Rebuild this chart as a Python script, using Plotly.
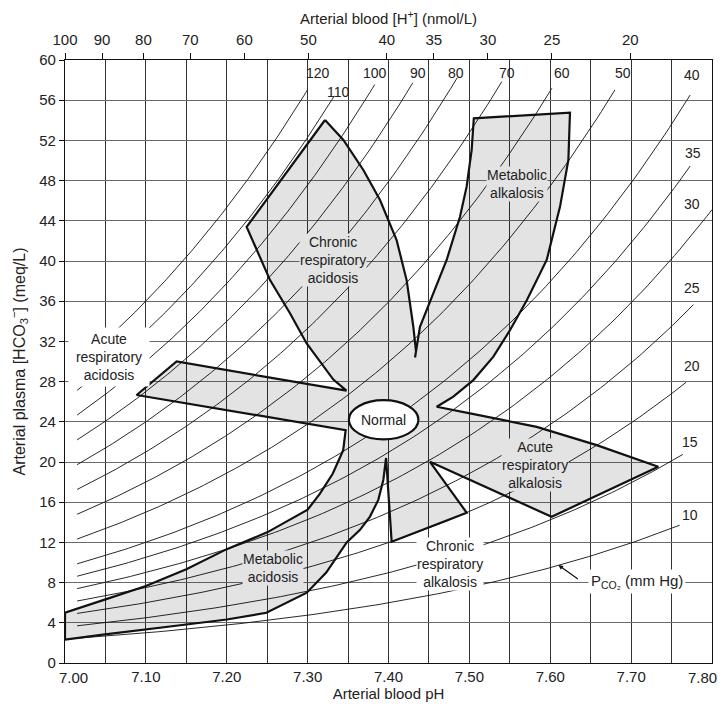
import numpy as np
import plotly.graph_objects as go

# ---------------- data ----------------
# PCO2 isopleths (mm Hg); curves follow Henderson-Hasselbalch
PCO2 = [10, 15, 20, 25, 30, 35, 40, 50, 60, 70, 80, 90, 100, 110, 120]
ISO_START_PH = 7.015
ISO_END_PH = [7.760, 7.764, 7.768, 7.777, 7.800, 7.773, 7.773, 7.680, 7.602,
              7.540, 7.485, 7.430, 7.383, 7.333, 7.300]
ISO_LABEL_PH = [7.773, 7.773, 7.775, 7.775, 7.775, 7.777, 7.775, 7.690, 7.614,
                7.546, 7.484, 7.437, 7.383, 7.338, 7.313]
ISO_LABEL_HCO3 = [14.7, 22.0, 29.6, 37.3, 45.7, 50.7, 58.5, 58.7, 58.7,
                  58.7, 58.7, 58.7, 58.7, 56.85, 58.7]
CO2_SOLUBILITY = 0.03
PK = 6.1

# combined outline of the shaded regions (pH, HCO3-)
REGION_PH = [
    7.3215, 7.3442, 7.3689, 7.3895, 7.4100, 7.4224, 7.4307, 7.4340,   # chronic resp. acidosis, right edge
    7.4328,                                                          # V
    7.4389, 7.4554, 7.4719, 7.4884, 7.4966, 7.5028, 7.5055,          # metabolic alkalosis, left edge
    7.6244, 7.6224, 7.6121, 7.5956, 7.5710, 7.5503, 7.5297, 7.5049, 7.4802,  # metabolic alkalosis, right edge
    7.4596,                                                          # notch
    7.5008, 7.5420, 7.5833, 7.6574, 7.7336,                          # acute resp. alkalosis, top edge
    7.6017, 7.4513,                                                  # acute resp. alkalosis, lower edge
    7.4967, 7.4039, 7.3970,                                          # chronic resp. alkalosis
    7.3936, 7.3874, 7.3771, 7.3648, 7.3483, 7.3230, 7.2990, 7.2490,
    7.2000, 7.1500, 7.0970, 7.0470, 7.0000,                          # metabolic acidosis, lower edge
    7.0000, 7.0500, 7.1000, 7.1500, 7.2000, 7.2500, 7.3000, 7.3150,
    7.3310, 7.3440, 7.3470,                                          # metabolic acidosis, upper edge
    7.0886, 7.1380, 7.3480,                                          # acute resp. acidosis
    7.3318, 7.2988, 7.2782, 7.2535, 7.2246,                          # chronic resp. acidosis, left edge
    7.3215,
]
REGION_HCO3 = [
    54.03, 52.04, 49.06, 46.07, 42.09, 38.10, 33.46, 31.00,
    30.40,
    33.46, 36.78, 40.10, 44.40, 47.40, 51.04, 54.20,
    54.76, 50.05, 45.41, 40.10, 36.10, 33.13, 30.48, 28.15, 26.50,
    25.50,
    24.84, 24.17, 23.50, 21.68, 19.52,
    14.55, 20.02,
    14.95, 12.06, 20.40,
    18.21, 16.23, 14.57, 13.25, 12.00, 9.00, 7.00, 5.00,
    4.33, 3.83, 3.33, 2.83, 2.33,
    5.00, 6.33, 7.67, 9.33, 11.33, 13.00, 15.25, 16.83,
    18.83, 21.17, 23.17,
    26.67, 30.00, 27.10,
    28.20, 31.80, 34.80, 38.10, 43.40,
    54.03,
]

# "Normal" ellipse
NORMAL_PH = 7.394
NORMAL_HCO3 = 24.2
NORMAL_HALF_PH = 0.043
NORMAL_HALF_HCO3 = 1.95

# region labels
LABEL_TEXT = ["Chronic<br>respiratory<br>acidosis", "Metabolic<br>alkalosis",
              "Acute<br>respiratory<br>acidosis", "Acute<br>respiratory<br>alkalosis",
              "Chronic<br>respiratory<br>alkalosis", "Metabolic<br>acidosis"]
LABEL_PH = [7.3318, 7.5585, 7.0550, 7.5812, 7.4760, 7.2574]
LABEL_HCO3 = [40.1, 47.7, 30.4, 19.7, 9.9, 9.5]
LABEL_ON_SHADE = [True, True, False, True, False, True]

PCO2_TITLE_PH = 7.707
PCO2_TITLE_HCO3 = 8.08
PCO2_ARROW_TIP = (7.610, 9.74)
PCO2_ARROW_TAIL = (7.636, 8.25)

# axes
PH_LABEL_TICKS = [7.10, 7.20, 7.30, 7.40, 7.50, 7.60, 7.70]
PH_LABEL_TEXT = ["7.10", "7.20", "7.30", "7.40", "7.50", "7.60", "7.70"]
PH_MINOR_GRID = [7.05, 7.15, 7.25, 7.35, 7.45, 7.55, 7.65, 7.75]
PH_RANGE = [7.00, 7.80]
PH_FIRST_LABEL = "7.00"
PH_LAST_LABEL = "7.80"
HCO3_TICKS = list(range(0, 61, 4))
H_ION_TICKS = [100, 90, 80, 70, 60, 50, 40, 35, 30, 25, 20]

# ---------------- figure ----------------
FONT = "Liberation Sans, Arial, Helvetica, sans-serif"
SHADE = "rgba(0,0,0,0.11)"
SHADE_SOLID = "#e3e3e3"
TXT = "#222222"
VGRID = "#333333"

fig = go.Figure()

# isopleths
for p, end in zip(PCO2, ISO_END_PH):
    ph = np.linspace(ISO_START_PH, end, 120)
    hco3 = CO2_SOLUBILITY * p * 10 ** (ph - PK)
    fig.add_trace(go.Scatter(x=ph, y=hco3, mode="lines",
                             line=dict(color="#111111", width=0.9),
                             hoverinfo="skip", showlegend=False))

# shaded regions with outline
fig.add_trace(go.Scatter(x=REGION_PH, y=REGION_HCO3, mode="lines", fill="toself",
                         fillcolor=SHADE, line=dict(color="#111111", width=2.2),
                         hoverinfo="skip", showlegend=False))

# dummy trace for the top axis
fig.add_trace(go.Scatter(x=PH_RANGE, y=[None, None], xaxis="x2", mode="lines",
                         hoverinfo="skip", showlegend=False))

# normal ellipse
fig.add_shape(type="circle", xref="x", yref="y",
              x0=NORMAL_PH - NORMAL_HALF_PH, x1=NORMAL_PH + NORMAL_HALF_PH,
              y0=NORMAL_HCO3 - NORMAL_HALF_HCO3, y1=NORMAL_HCO3 + NORMAL_HALF_HCO3,
              fillcolor="white", line=dict(color="#111111", width=2.2), layer="above")

annotations = []
annotations.append(dict(x=NORMAL_PH, y=NORMAL_HCO3, text="Normal", showarrow=False,
                        font=dict(family=FONT, size=14, color=TXT)))

for t, x, y, shaded in zip(LABEL_TEXT, LABEL_PH, LABEL_HCO3, LABEL_ON_SHADE):
    a = dict(x=x, y=y, text=t, showarrow=False, align="center",
             font=dict(family=FONT, size=14, color=TXT),
             bgcolor=SHADE_SOLID if shaded else "white", borderpad=0)
    if t.startswith("Acute<br>respiratory<br>acidosis"):
        a.update(width=80, height=58)
    annotations.append(a)

for p, x, y in zip(PCO2, ISO_LABEL_PH, ISO_LABEL_HCO3):
    annotations.append(dict(x=x, y=y, text=str(p), showarrow=False,
                            font=dict(family=FONT, size=14, color=TXT)))

annotations.append(dict(x=PCO2_TITLE_PH, y=PCO2_TITLE_HCO3,
                        text="P<sub>CO\u2082</sub> (mm Hg)", showarrow=False,
                        font=dict(family=FONT, size=15, color=TXT), bgcolor="white",
                        borderpad=2))
annotations.append(dict(x=PCO2_ARROW_TIP[0], y=PCO2_ARROW_TIP[1], text="",
                        showarrow=True, axref="x", ayref="y",
                        ax=PCO2_ARROW_TAIL[0], ay=PCO2_ARROW_TAIL[1],
                        arrowhead=2, arrowsize=0.8, arrowwidth=1.2, arrowcolor="#111111"))

# end pH tick labels, nudged inward as in the reference
annotations.append(dict(x=PH_RANGE[0], y=0, xref="x", yref="paper", text=PH_FIRST_LABEL,
                        showarrow=False, xanchor="left", yanchor="top",
                        xshift=-8, yshift=-4, font=dict(family=FONT, size=15, color=TXT)))
annotations.append(dict(x=PH_RANGE[1], y=0, xref="x", yref="paper", text=PH_LAST_LABEL,
                        showarrow=False, xanchor="right", yanchor="top",
                        xshift=7, yshift=-4, font=dict(family=FONT, size=15, color=TXT)))

# the page body adds an 8 px offset, so the figure is 8 px smaller than the window
fig.update_layout(
    width=719, height=701,
    margin=dict(l=57, r=15, t=52, b=46, autoexpand=False),
    paper_bgcolor="white", plot_bgcolor="white",
    font=dict(family=FONT, size=15, color=TXT),
    showlegend=False,
    annotations=annotations,
    xaxis=dict(range=PH_RANGE, tickvals=PH_LABEL_TICKS, ticktext=PH_LABEL_TEXT,
               showgrid=True, gridcolor=VGRID, gridwidth=1,
               minor=dict(tickvals=PH_MINOR_GRID, showgrid=True, gridcolor=VGRID,
                          gridwidth=1, ticks=""),
               showline=True, linecolor="#111111", linewidth=1.2, mirror=True,
               ticks="", zeroline=False, automargin=False,
               ticklabeloverflow="allow",
               title=dict(text="Arterial blood pH", standoff=4,
                          font=dict(family=FONT, size=15, color=TXT)),
               tickfont=dict(family=FONT, size=15, color=TXT)),
    xaxis2=dict(range=PH_RANGE, overlaying="x", side="top",
                tickvals=[9 - np.log10(h) for h in H_ION_TICKS],
                ticktext=[str(h) for h in H_ION_TICKS],
                ticks="outside", ticklen=6, tickcolor="#111111", tickwidth=1.2,
                showgrid=False, zeroline=False, showline=False, automargin=False,
                ticklabeloverflow="allow", ticklabelstandoff=2,
                title=dict(text="Arterial blood [H<sup>+</sup>] (nmol/L)", standoff=2,
                           font=dict(family=FONT, size=15, color=TXT)),
                tickfont=dict(family=FONT, size=15, color=TXT)),
    yaxis=dict(range=[0, 60], tickvals=HCO3_TICKS,
               showgrid=True, gridcolor="#6a6a6a", gridwidth=1.3,
               showline=True, linecolor="#111111", linewidth=1.2, mirror=True,
               ticks="outside", ticklen=5, tickcolor="#111111", zeroline=False,
               automargin=False, ticklabeloverflow="allow",
               title=dict(text="Arterial plasma [HCO<sub>3</sub><sup>\u2212</sup>] (meq/L)",
                          standoff=12, font=dict(family=FONT, size=16, color=TXT)),
               tickfont=dict(family=FONT, size=15, color=TXT)),
)

fig.write_html("out.html")
